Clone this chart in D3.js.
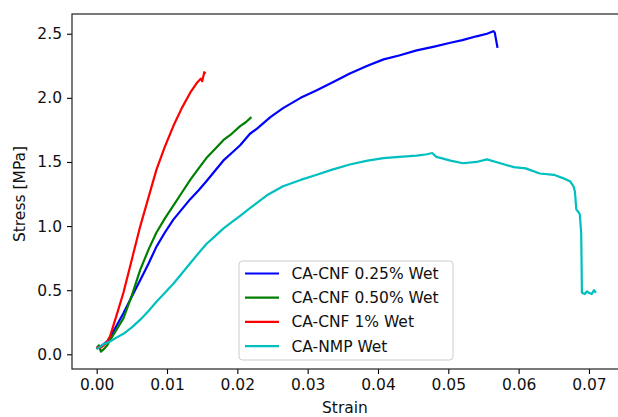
<!DOCTYPE html>
<html>
<head>
<meta charset="utf-8">
<script src="https://cdn.jsdelivr.net/npm/d3@7"></script>
<style>
  body { margin: 0; background: white; }
  svg { display: block; font-family: "DejaVu Sans", sans-serif; }
</style>
</head>
<body>
<div id="chart"></div>
<script>
// series: strain, stress [MPa]
const seriesNames = ["CA-CNF 0.25% Wet", "CA-CNF 0.50% Wet", "CA-CNF 1% Wet", "CA-NMP Wet"]
const seriesColors = ["#0000ff", "#008000", "#ff0000", "#00bfbf"]

const strain025 = [0.0000, 0.0005, 0.0010, 0.0015, 0.0020, 0.0028, 0.0038, 0.0050, 0.0062, 0.0074, 0.0085, 0.0097, 0.0109, 0.0121, 0.0133, 0.0145, 0.0156, 0.0168, 0.0180, 0.0192, 0.0204, 0.0218, 0.0228, 0.0247, 0.0265, 0.0290, 0.0313, 0.0335, 0.0360, 0.0385, 0.0408, 0.0430, 0.0455, 0.0480, 0.0503, 0.0520, 0.0540, 0.0555, 0.0564, 0.0566, 0.0568, 0.0570]
const stress025 = [0.05, 0.06, 0.08, 0.10, 0.14, 0.22, 0.32, 0.45, 0.58, 0.71, 0.84, 0.95, 1.05, 1.13, 1.21, 1.28, 1.35, 1.43, 1.51, 1.57, 1.63, 1.72, 1.76, 1.85, 1.92, 2.00, 2.06, 2.12, 2.19, 2.25, 2.30, 2.33, 2.37, 2.40, 2.43, 2.45, 2.48, 2.50, 2.52, 2.51, 2.45, 2.39]

const strain050 = [0.0000, 0.0003, 0.0006, 0.0010, 0.0015, 0.0019, 0.0028, 0.0038, 0.0050, 0.0062, 0.0074, 0.0085, 0.0097, 0.0109, 0.0121, 0.0133, 0.0145, 0.0156, 0.0168, 0.0180, 0.0192, 0.0204, 0.0212, 0.0220]
const stress050 = [0.04, 0.07, 0.02, 0.04, 0.07, 0.11, 0.19, 0.28, 0.46, 0.66, 0.82, 0.95, 1.06, 1.16, 1.26, 1.36, 1.45, 1.53, 1.60, 1.67, 1.72, 1.78, 1.81, 1.85]

const strain1 = [0.0000, 0.0005, 0.0010, 0.0015, 0.0019, 0.0028, 0.0038, 0.0050, 0.0062, 0.0074, 0.0085, 0.0097, 0.0109, 0.0121, 0.0133, 0.0143, 0.0148, 0.0150, 0.0153, 0.0155]
const stress1 = [0.06, 0.05, 0.07, 0.10, 0.14, 0.30, 0.48, 0.74, 1.00, 1.23, 1.44, 1.62, 1.78, 1.92, 2.04, 2.12, 2.15, 2.13, 2.20, 2.19]

const strainNMP = [0.0000, 0.0005, 0.0010, 0.0019, 0.0028, 0.0038, 0.0050, 0.0062, 0.0074, 0.0085, 0.0097, 0.0109, 0.0121, 0.0133, 0.0145, 0.0156, 0.0168, 0.0180, 0.0192, 0.0204, 0.0218, 0.0242, 0.0265, 0.0290, 0.0313, 0.0335, 0.0360, 0.0385, 0.0408, 0.0430, 0.0455, 0.0470, 0.0477, 0.0483, 0.0490, 0.0503, 0.0521, 0.0540, 0.0555, 0.0574, 0.0593, 0.0610, 0.0630, 0.0650, 0.0665, 0.0673, 0.0678, 0.0680, 0.0682, 0.0685, 0.0687, 0.0689, 0.0690, 0.0694, 0.0697, 0.0700, 0.0704, 0.0707, 0.0710]
const stressNMP = [0.04, 0.06, 0.08, 0.10, 0.13, 0.16, 0.21, 0.27, 0.34, 0.41, 0.48, 0.55, 0.63, 0.71, 0.79, 0.86, 0.92, 0.98, 1.03, 1.08, 1.14, 1.24, 1.31, 1.36, 1.40, 1.44, 1.48, 1.51, 1.53, 1.54, 1.55, 1.56, 1.57, 1.54, 1.53, 1.51, 1.49, 1.50, 1.52, 1.49, 1.46, 1.45, 1.41, 1.40, 1.37, 1.35, 1.31, 1.27, 1.13, 1.11, 1.09, 0.94, 0.48, 0.47, 0.49, 0.48, 0.47, 0.50, 0.48]

const xTicks = [0.00, 0.01, 0.02, 0.03, 0.04, 0.05, 0.06, 0.07]
const yTicks = [0.0, 0.5, 1.0, 1.5, 2.0, 2.5]

const allStrain = [strain025, strain050, strain1, strainNMP]
const allStress = [stress025, stress050, stress1, stressNMP]

const width = 618, height = 417
const plot = { left: 72, right: 618, top: 14, bottom: 369 }

let svg = d3.select("#chart").append("svg")
    .attr("width", width)
    .attr("height", height)

let x = d3.scaleLinear().domain([-0.00351, 0.07413]).range([plot.left, plot.right])
let y = d3.scaleLinear().domain([-0.1147, 2.654]).range([plot.bottom, plot.top])

let line = d3.line()
    .x(d => x(d[0]))
    .y(d => y(d[1]))

let curves = svg.append("g")
allStrain.forEach((s, i) => {
    let pts = s.map((v, j) => [v, allStress[i][j]])
    curves.append("path")
        .attr("d", line(pts))
        .attr("fill", "none")
        .attr("stroke", seriesColors[i])
        .attr("stroke-width", 2.2)
        .attr("stroke-linejoin", "round")
})

// axes
let xAxis = svg.append("g")
    .attr("transform", `translate(0,${plot.bottom})`)
    .call(d3.axisBottom(x).tickValues(xTicks).tickFormat(d3.format(".2f")).tickSizeOuter(0).tickSize(5).tickPadding(5))
let yAxis = svg.append("g")
    .attr("transform", `translate(${plot.left},0)`)
    .call(d3.axisLeft(y).tickValues(yTicks).tickFormat(d3.format(".1f")).tickSizeOuter(0).tickSize(5).tickPadding(5))

for (let ax of [xAxis, yAxis]) {
    ax.select(".domain").remove()
    ax.selectAll("line").attr("stroke", "#000").attr("stroke-width", 1.1)
    ax.selectAll("text").attr("font-size", 15.5).attr("fill", "#111").attr("font-family", "DejaVu Sans")
}

// spines
svg.append("rect")
    .attr("x", plot.left)
    .attr("y", plot.top)
    .attr("width", plot.right - plot.left + 2)
    .attr("height", plot.bottom - plot.top)
    .attr("fill", "none")
    .attr("stroke", "#222")
    .attr("stroke-width", 1.2)

svg.append("text")
    .attr("x", (plot.left + plot.right) / 2)
    .attr("y", 413)
    .attr("text-anchor", "middle")
    .attr("font-size", 15.5)
    .attr("fill", "#111")
    .text("Strain")

svg.append("text")
    .attr("transform", `translate(25,194) rotate(-90)`)
    .attr("text-anchor", "middle")
    .attr("font-size", 15.5)
    .attr("fill", "#111")
    .text("Stress [MPa]")

// legend
let legend = svg.append("g").attr("transform", "translate(239,261)")
legend.append("rect")
    .attr("width", 214)
    .attr("height", 99)
    .attr("rx", 3.5)
    .attr("fill", "white")
    .attr("fill-opacity", 0.8)
    .attr("stroke", "#cccccc")
    .attr("stroke-width", 1)

seriesNames.forEach((name, i) => {
    let ry = 12.5 + i * 24.2
    legend.append("line")
        .attr("x1", 6).attr("x2", 40)
        .attr("y1", ry).attr("y2", ry)
        .attr("stroke", seriesColors[i])
        .attr("stroke-width", 2.2)
    legend.append("text")
        .attr("x", 52.5)
        .attr("y", ry + 5.5)
        .attr("font-size", 15.5)
        .attr("fill", "#111")
        .text(name)
})
</script>
</body>
</html>
